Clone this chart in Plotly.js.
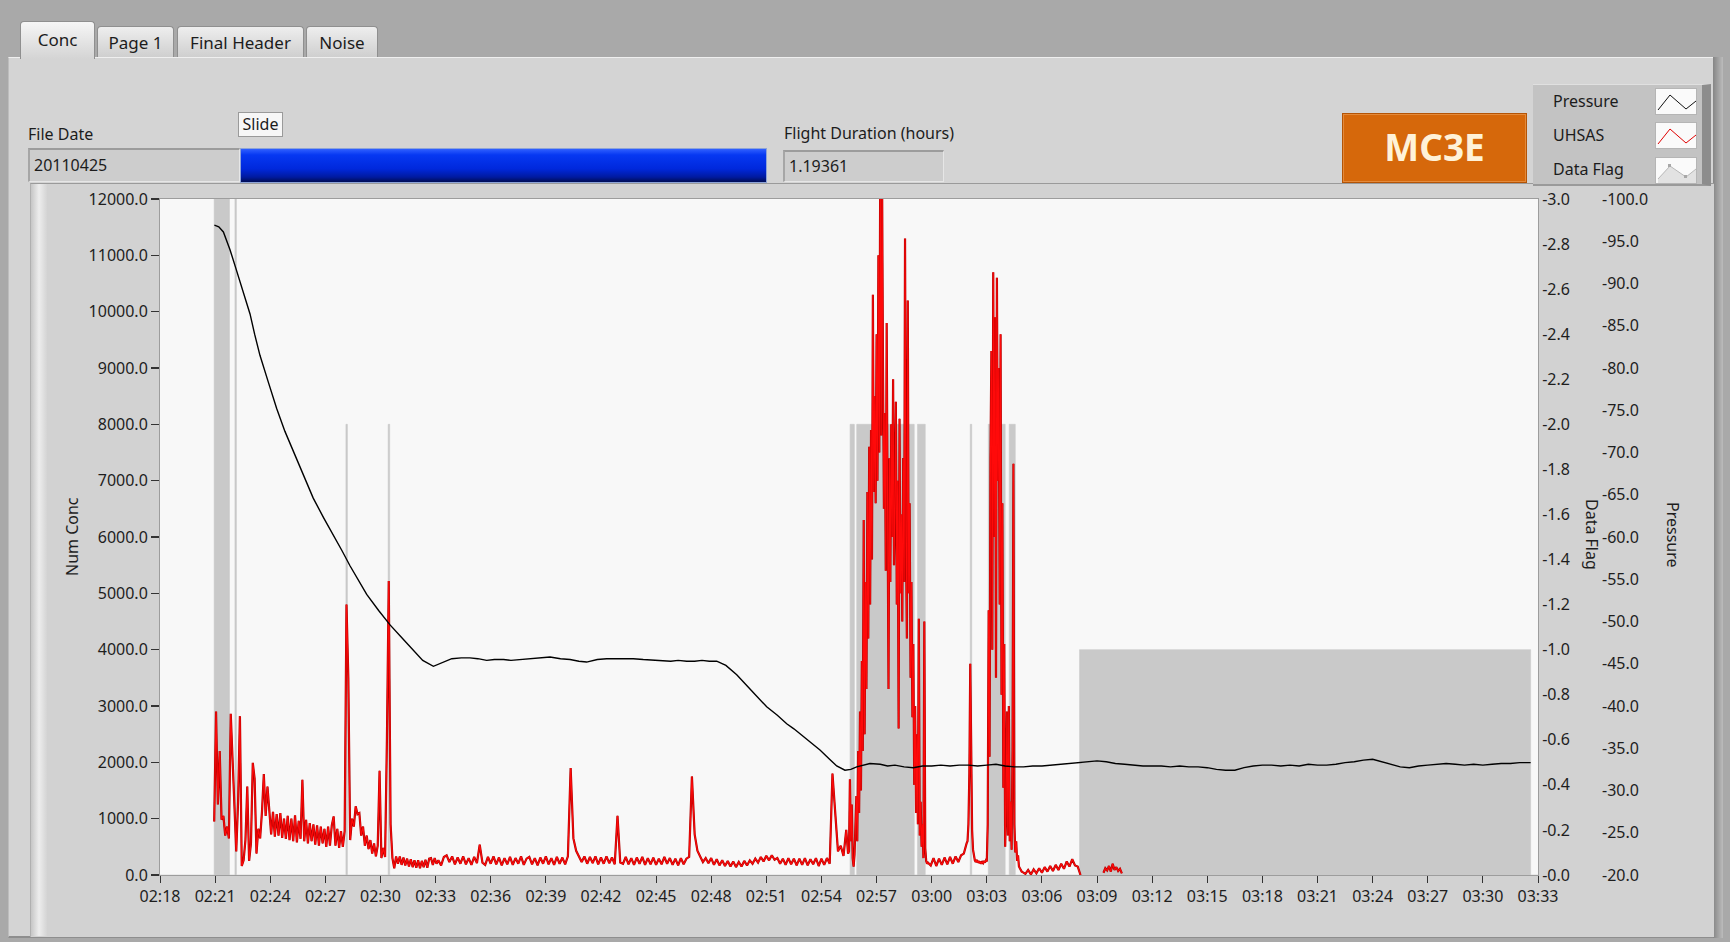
<!DOCTYPE html>
<html>
<head>
<meta charset="utf-8">
<title>MC3E UHSAS</title>
<script src="https://cdn.plot.ly/plotly-3.0.1.min.js"></script>
<style>
  html,body{margin:0;padding:0;}
  body{width:1730px;height:942px;overflow:hidden;background:#a9a9a9;position:relative;font-family:"Noto Sans","Open Sans",sans-serif;color:#1c1c1c;}
  .a{position:absolute;box-sizing:border-box;}
  .tab{position:absolute;box-sizing:border-box;border:1px solid #8f8f8f;border-bottom:none;border-radius:4px 4px 0 0;background:linear-gradient(#eeeeee,#cfcfcf);font-size:17px;text-align:center;white-space:nowrap;}
  .lbl{position:absolute;font-size:16px;white-space:nowrap;line-height:22px;}
  .field{position:absolute;box-sizing:border-box;background:#cdcdcd;border-top:2px solid #9c9c9c;border-left:2px solid #a6a6a6;border-bottom:1px solid #e6e6e6;border-right:1px solid #e6e6e6;font-size:16px;padding-left:4px;white-space:nowrap;}
  .lrow{position:absolute;left:20px;font-size:16px;line-height:22px;}
  .licon{position:absolute;left:122px;width:42px;height:27px;background:#fafafa;border:1px solid #b5b5b5;box-sizing:border-box;}
</style>
</head>
<body>
<!-- tab page panel -->
<div class="a" style="left:8px;top:57px;width:1706px;height:881px;background:#d4d4d4;border-top:1px solid #efefef;border-left:1px solid #bdbdbd;border-bottom:2px solid #8e8e8e"></div>
<div class="a" style="left:1713px;top:57px;width:10px;height:881px;background:linear-gradient(90deg,#858585,#bcbcbc)"></div>
<!-- tabs -->
<div class="tab" style="left:20px;top:21px;width:75px;height:38px;line-height:36px;background:linear-gradient(#f6f6f6,#d4d4d4);z-index:2">Conc</div>
<div class="tab" style="left:97px;top:26px;width:77px;height:31px;line-height:31px">Page 1</div>
<div class="tab" style="left:177px;top:26px;width:127px;height:31px;line-height:31px">Final Header</div>
<div class="tab" style="left:306px;top:26px;width:72px;height:31px;line-height:31px">Noise</div>
<!-- graph frame -->
<div class="a" style="left:30px;top:183px;width:1684px;height:754px;background:#d2d2d2;border-top:1px solid #9a9a9a;border-left:1px solid #b0b0b0"></div>
<div class="a" style="left:31px;top:184px;width:16px;height:752px;background:linear-gradient(90deg,#c6c6c6,#ededed,#d4d4d4)"></div>
<!-- controls -->
<div class="lbl" style="left:28px;top:123px">File Date</div>
<div class="field" style="left:28px;top:148px;width:212px;height:34px;line-height:30px">20110425</div>
<div class="a" style="left:238px;top:112px;width:45px;height:25px;background:#f7f7f7;border:1px solid #9a9a9a;font-size:16px;line-height:22px;text-align:center">Slide</div>
<div class="a" style="left:240px;top:148px;width:527px;height:35px;border:1px solid #8ea4d8;background:linear-gradient(#3060ff 0%,#0638f2 18%,#0028dc 60%,#001aa0 85%,#000d55 100%)"></div>
<div class="lbl" style="left:784px;top:122px">Flight Duration (hours)</div>
<div class="field" style="left:783px;top:150px;width:161px;height:32px;line-height:28px">1.19361</div>
<div class="a" style="left:1342px;top:113px;width:185px;height:70px;background:#d6680b;border:1px solid #b45406;box-shadow:inset 0 0 0 1px #e48a3a;color:#fff2d8;font-weight:bold;font-size:37px;line-height:66px;text-align:center;z-index:4">MC3E</div>
<!-- legend -->
<div class="a" style="left:1533px;top:84px;width:178px;height:102px;background:#c3c3c3;border-right:9px solid #8d8d8d;border-bottom:2px solid #9a9a9a;border-top:1px solid #e0e0e0;z-index:4">
  <div class="lrow" style="top:5px">Pressure</div>
  <div class="lrow" style="top:39px">UHSAS</div>
  <div class="lrow" style="top:73px">Data Flag</div>
  <div class="licon" style="top:3px"><svg width="40" height="25"><polyline points="2,21 14,6 30,20 40,12" fill="none" stroke="#111" stroke-width="1"/></svg></div>
  <div class="licon" style="top:37px"><svg width="40" height="25"><polyline points="2,21 14,6 30,20 40,12" fill="none" stroke="#e00000" stroke-width="1"/></svg></div>
  <div class="licon" style="top:72px"><svg width="40" height="25"><polygon points="2,21 14,8 30,19 40,11 40,25 2,25" fill="#e2e2e2"/><polyline points="2,21 14,8 30,19 40,11" fill="none" stroke="#b8b8b8" stroke-width="1"/><rect x="12" y="6" width="3" height="3" fill="#a8a8a8"/><rect x="28" y="17" width="3" height="3" fill="#a8a8a8"/></svg></div>
</div>
<div id="chart" class="a" style="left:0;top:0;width:1730px;height:942px;z-index:3"></div>
<script>
// ---------- tick labels ----------
const xTickVals = [18,21,24,27,30,33,36,39,42,45,48,51,54,57,60,63,66,69,72,75,78,81,84,87,90,93];
const xTickText = ["02:18","02:21","02:24","02:27","02:30","02:33","02:36","02:39","02:42","02:45","02:48","02:51","02:54","02:57","03:00","03:03","03:06","03:09","03:12","03:15","03:18","03:21","03:24","03:27","03:30","03:33"];
const concTickVals = [0,1000,2000,3000,4000,5000,6000,7000,8000,9000,10000,11000,12000];
const concTickText = ["0.0","1000.0","2000.0","3000.0","4000.0","5000.0","6000.0","7000.0","8000.0","9000.0","10000.0","11000.0","12000.0"];
const flagTickVals = [0,0.2,0.4,0.6,0.8,1.0,1.2,1.4,1.6,1.8,2.0,2.2,2.4,2.6,2.8,3.0];
const flagTickText = ["-0.0","-0.2","-0.4","-0.6","-0.8","-1.0","-1.2","-1.4","-1.6","-1.8","-2.0","-2.2","-2.4","-2.6","-2.8","-3.0"];
const presTickVals = [-20,-25,-30,-35,-40,-45,-50,-55,-60,-65,-70,-75,-80,-85,-90,-95,-100];
const presTickText = ["-20.0","-25.0","-30.0","-35.0","-40.0","-45.0","-50.0","-55.0","-60.0","-65.0","-70.0","-75.0","-80.0","-85.0","-90.0","-95.0","-100.0"];

// ---------- Data Flag (minutes after 02:00, flag level) ----------
const flagTime = [18,20.95,21.78,22.08,22.16,28.12,28.2,30.42,30.5,55.56,55.79,55.92,59.05,59.23,59.65,62.1,62.18,63.08,64.0,64.22,64.55,68.05,92.6,93];
const flagLevel = [0,3,0,3,0,2,0,2,0,2,0,2,0,2,0,2,0,2,0,2,0,1,0,0];

// ---------- Pressure (minutes after 02:00, value) ----------
const presTime = [20.96,21.2,21.45,21.81,22.1,22.35,22.6,22.9,23.15,23.44,23.9,24.35,24.8,25.26,25.8,26.34,26.9,27.43,27.9,28.34,28.8,29.25,29.9,30.52,31.2,31.79,32.3,32.88,33.4,33.88,34.4,34.87,35.3,35.78,36.2,36.7,37.1,37.59,38.0,38.4,38.8,39.23,39.8,40.32,40.8,41.22,41.8,42.31,43.0,43.76,44.3,44.85,45.3,45.8,46.2,46.67,47.1,47.5,47.9,48.3,48.8,49.39,50.2,51.02,51.6,52.11,52.5,53.01,53.5,53.92,54.4,54.83,55.28,55.6,55.92,56.3,56.64,57.2,57.6,58.0,58.5,59.0,59.5,60.0,60.5,61.0,61.5,62.0,62.5,63.0,63.5,64.0,64.5,65.0,65.5,66.0,66.5,67.0,67.5,68.0,68.5,69.0,69.5,70.0,70.5,71.0,71.5,72.0,72.5,73.0,73.5,74.0,74.5,75.0,75.5,76.0,76.5,77.0,77.5,78.0,78.5,79.0,79.5,80.0,80.5,81.0,81.5,82.0,82.5,83.0,83.5,84.0,84.5,85.0,85.5,86.0,86.5,87.0,87.5,88.0,88.5,89.0,89.5,90.0,90.5,91.0,91.5,92.0,92.6];
const presValue = [-96.9,-96.7,-96.1,-94.0,-92.0,-90.2,-88.3,-86.4,-84.0,-81.5,-78.3,-75.2,-72.5,-70.1,-67.2,-64.6,-62.3,-60.3,-58.4,-56.6,-54.9,-53.2,-51.3,-49.6,-48.0,-46.6,-45.4,-44.7,-45.2,-45.6,-45.7,-45.7,-45.6,-45.4,-45.5,-45.5,-45.4,-45.5,-45.6,-45.7,-45.8,-45.8,-45.6,-45.5,-45.3,-45.2,-45.5,-45.6,-45.6,-45.6,-45.5,-45.4,-45.4,-45.3,-45.4,-45.3,-45.3,-45.4,-45.3,-45.3,-44.8,-43.7,-41.8,-39.9,-38.9,-37.9,-37.3,-36.4,-35.6,-34.8,-33.8,-32.9,-32.4,-32.5,-32.8,-33.0,-33.2,-33.1,-32.9,-33.0,-32.8,-32.7,-32.9,-32.9,-33.0,-32.9,-33.0,-33.0,-32.9,-33.0,-33.1,-32.9,-32.8,-32.8,-32.9,-32.9,-33.0,-33.1,-33.2,-33.3,-33.4,-33.5,-33.4,-33.2,-33.1,-33.0,-32.9,-32.9,-32.9,-32.8,-32.9,-32.8,-32.8,-32.7,-32.5,-32.4,-32.4,-32.7,-32.9,-33.0,-33.0,-32.9,-33.0,-32.9,-33.1,-33.0,-33.0,-33.1,-33.3,-33.4,-33.6,-33.7,-33.4,-33.1,-32.8,-32.7,-32.9,-33.0,-33.1,-33.2,-33.1,-33.0,-33.1,-33.0,-33.1,-33.2,-33.2,-33.3,-33.3];

// ---------- UHSAS number concentration, read in segments (start minute, sample step, values) ----------
const uhsasStartA = 20.95, uhsasStepA = 0.1;
const uhsasA = [950,2900,1250,2200,980,1050,700,860,650,2860,
 2050,1100,420,1300,2820,160,260,620,1570,250,
 560,1990,1710,380,820,650,1120,1790,1050,1570,
 1150,720,1120,680,1080,700,1100,660,1000,640,
 1050,620,1000,600,1060,580,960,640,1690,600,
 980,560,920,600,900,540,880,520,860,560,
 820,500,860,520,880,1040,520,820,480,780,
 500,780,4800,3500,620,1000,860,1220,1080,1100,
 700,860,520,700,460,620,380,560,330,520,
 1850,300,480,320,2390,5220,900,300,120,330,
 200,330,180,310,170,290,150,280,140,260,
 130,260,120,250,140,270,130,290,300,180,
 300,200];
const uhsasStartB = 33.15, uhsasStepB = 0.15;
const uhsasB = [260,170,320,350,230,330,190,310,200,330,
 190,300,180,320,210,540,220,180,320,200,
 330,190,310,170,300,190,320,180,300,200,
 330,180,290,320,190,300,170,310,200,330,
 190,300,180,320,200,310,190,330,1900,650,
 430,340,230,330,200,320,210,330,190,310,
 200,330,210,310,190,1050,220,200,320,190,
 300,180,310,200,320,180,300,190,310,180,
 290,190,320,200,300,180,290,170,300,190,
 290,320,1750,720,430,330,230,300,210,300,
 180,280,170,260,160,250,150,240,140,230,
 150,250,170,260,200,290,220,320,240,340,
 260,350,270,300,200,290,180,300,190,290,
 170,290,180,300,170,280,190,300,160,290,
 180,300,200,1800,1030,420,520,340,800];
const uhsasStartC = 55.40, uhsasStepC = 0.05;
const uhsasC = [450,380,420,1700,600,1250,300,150,350,900,
 1400,600,2200,1100,2900,1500,3800,2200,6300,2500,
 5200,3300,6800,4200,7600,4800,7900,5600,10300,6800,
 8500,6600,9600,7000,11000,7500,12600,7800,12400,9000,
 6500,8200,5400,9800,6000,3300,7400,5200,8000,6000,
 8800,5500,6600,8400,4800,7000,2600,8100,5000,6400,
 4500,7400,5200,11300,6000,4200,10200,5000,6600,3500,
 5200,2800,4100,1600,3000,1100,2500,900,4550,700,
 1300,500,900,300,4500,480,250,200,220];
const uhsasStartD = 59.95, uhsasStepD = 0.15;
const uhsasD = [170,300,160,290,180,310,190,320,200,330,230,350,380,560];
const uhsasStartE = 61.95, uhsasStepE = 0.05;
const uhsasE = [600,900,1800,3750,2200,800,450,320,260,230,
 270,220,250,210,240,200,230,210,250,220,
 260,240,900,4700,2100,7400,9300,4000,10700,6000,
 9900,3500,10600,7000,9000,4800,9600,3200,6600,1550,
 4100,500,1200,2900,700,3000,600,1300,450,2200,
 7300,900,400,600,250,350,150,120,80,60,
 50];
const uhsasStartF = 65.10, uhsasStepF = 0.15;
const uhsasF = [20,90,10,100,30,120,40,140,60,160,70,180,90,200,110,240,150,280,170,150,0];
const uhsasStartG = 69.35, uhsasStepG = 0.1;
const uhsasG = [40,120,80,160,60,200,90,140,70,110,30];

// assemble the UHSAS series (null = gap in the record)
const uhX = [], uhY = [];
function addSeg(start, step, vals){
  vals.forEach((v,i)=>{ uhX.push(Math.round((start+i*step)*1000)/1000); uhY.push(v); });
}
addSeg(uhsasStartA, uhsasStepA, uhsasA);
addSeg(uhsasStartB, uhsasStepB, uhsasB);
addSeg(uhsasStartC, uhsasStepC, uhsasC);
addSeg(uhsasStartD, uhsasStepD, uhsasD);
addSeg(uhsasStartE, uhsasStepE, uhsasE);
addSeg(uhsasStartF, uhsasStepF, uhsasF);
uhX.push(68.7); uhY.push(null);
addSeg(uhsasStartG, uhsasStepG, uhsasG);

// ---------- geometry helpers (pixel -> paper) ----------
const ML = 160, MR = 30, MT = 199, MB = 67;
const paperW = 1730 - ML - MR;      // 1540
const plotRight = 1538;
const xDomEnd = (plotRight - ML) / paperW;
const plotH = 942 - MT - MB;        // 676
const px = x => (x - ML) / paperW;
const py = y => (942 - MB - y) / plotH;

const FONT = '"Noto Sans", "Open Sans", sans-serif';
const tickFont = {family: FONT, size: 16, color: '#1e1e1e'};

const traces = [
  {x: flagTime, y: flagLevel, yaxis: 'y', type: 'scatter', mode: 'lines',
   line: {shape: 'hv', width: 0.6, color: '#c9c9c9'}, fill: 'tozeroy', fillcolor: '#c9c9c9',
   name: 'Data Flag', hoverinfo: 'skip'},
  {x: uhX, y: uhY, yaxis: 'y2', type: 'scatter', mode: 'lines',
   line: {width: 2.2, color: '#b00000'}, name: 'UHSAS edge', connectgaps: false, hoverinfo: 'skip'},
  {x: uhX, y: uhY, yaxis: 'y2', type: 'scatter', mode: 'lines',
   line: {width: 1.1, color: '#ff0a0a'}, name: 'UHSAS', connectgaps: false},
  {x: presTime, y: presValue, yaxis: 'y3', type: 'scatter', mode: 'lines',
   line: {width: 1.4, color: '#000000'}, name: 'Pressure'}
];

const layout = {
  width: 1730, height: 942,
  margin: {l: ML, r: MR, t: MT, b: MB, pad: 0},
  paper_bgcolor: 'rgba(0,0,0,0)', plot_bgcolor: '#f8f8f8',
  showlegend: false,
  font: {family: FONT, size: 16, color: '#1e1e1e'},
  xaxis: {domain: [0, xDomEnd], range: [18, 93], tickmode: 'array', tickvals: xTickVals, ticktext: xTickText,
          ticks: 'outside', ticklen: 7, tickwidth: 1, tickcolor: '#333', tickfont: tickFont,
          showgrid: false, zeroline: false, showline: true, linecolor: '#9d9d9d', linewidth: 1, mirror: true,
          automargin: false, fixedrange: true},
  yaxis: {range: [0, 3], side: 'right', anchor: 'x', tickmode: 'array', tickvals: flagTickVals, ticktext: flagTickText,
          ticks: '', tickfont: tickFont, showgrid: false, zeroline: false,
          showline: true, linecolor: '#9d9d9d', mirror: true, automargin: false, fixedrange: true},
  yaxis2: {range: [0, 12000], overlaying: 'y', side: 'left', anchor: 'x', tickmode: 'array',
           tickvals: concTickVals, ticktext: concTickText, ticks: 'outside', ticklen: 8, tickwidth: 1.3,
           tickcolor: '#333', tickfont: tickFont, showgrid: false, zeroline: false, showline: false,
           automargin: false, fixedrange: true},
  yaxis3: {range: [-20, -100], overlaying: 'y', side: 'right', anchor: 'free', position: px(1601),
           tickmode: 'array', tickvals: presTickVals, ticktext: presTickText, ticks: '',
           tickfont: tickFont, showgrid: false, zeroline: false, showline: false,
           automargin: false, fixedrange: true},
  annotations: [
    {text: 'Num Conc', xref: 'paper', yref: 'paper', x: px(72), y: py(537), textangle: -90,
     showarrow: false, font: {family: FONT, size: 16, color: '#1e1e1e'}, xanchor: 'center', yanchor: 'middle'},
    {text: 'Data Flag', xref: 'paper', yref: 'paper', x: px(1592), y: py(534), textangle: 90,
     showarrow: false, font: {family: FONT, size: 16, color: '#1e1e1e'}, xanchor: 'center', yanchor: 'middle'},
    {text: 'Pressure', xref: 'paper', yref: 'paper', x: px(1673), y: py(535), textangle: 90,
     showarrow: false, font: {family: FONT, size: 16, color: '#1e1e1e'}, xanchor: 'center', yanchor: 'middle'}
  ]
};

Plotly.newPlot('chart', traces, layout, {staticPlot: true, displayModeBar: false});
</script>
</body>
</html>
